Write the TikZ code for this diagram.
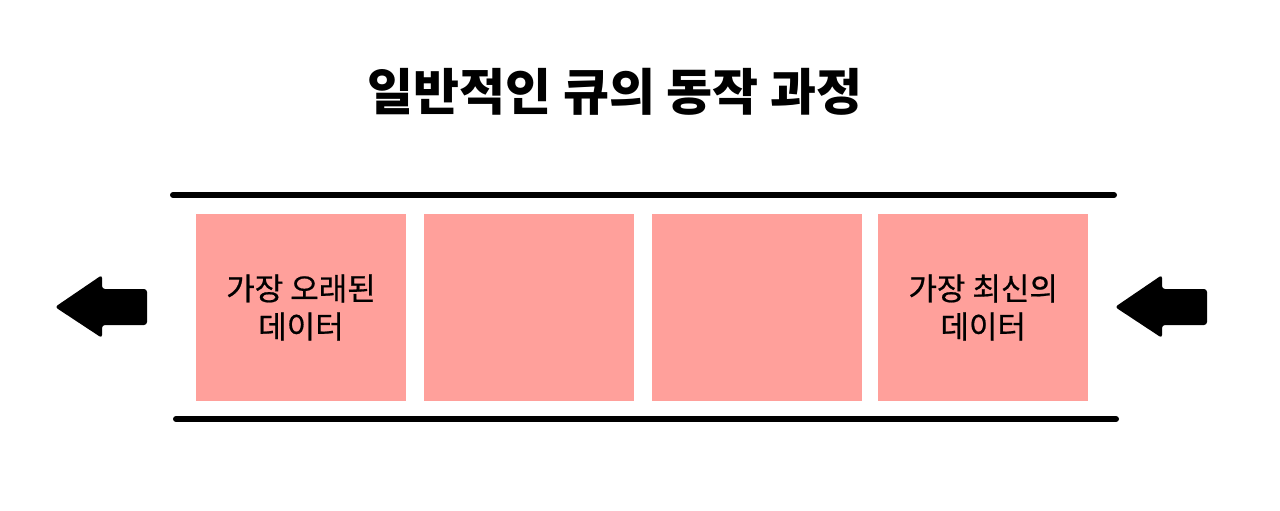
\documentclass[tikz,border=0pt]{standalone}
\usepackage{fontspec}
\setmainfont{Noto Sans CJK KR}
\newfontfamily\boxfont{Noto Sans CJK KR}[FakeBold=0.6]
\usepackage{xcolor}
\usepackage{tikz}
\usetikzlibrary{positioning}

\definecolor{queuepink}{RGB}{255,160,155}
\tikzset{
  databox/.style={fill=queuepink, minimum width=210pt, minimum height=187pt, inner sep=0pt,
    align=center, font=\boxfont\fontsize{31}{38}\selectfont},
  rail/.style={line width=6pt, line cap=round},
  bigarrow/.style={fill=black, rounded corners=3pt}
}

\begin{document}
\begin{tikzpicture}[x=1pt, y=-1pt]
\useasboundingbox (0, 0) rectangle (1280, 511);

\node[font=\fontsize{50}{55}\bfseries] (title) at (615, 92) {일반적인 큐의 동작 과정};

\draw[rail] (173, 195) -- (1114, 195);
\draw[rail] (176, 419) -- (1116, 419);

\node[databox] (oldest) at (301, 307.5) {가장 오래된\\데이터};
\node[databox, right=18pt of oldest] (second) {};
\node[databox, right=17pt of second] (third) {};
\node[databox, right=16pt of third] (newest) {가장 최신의\\데이터};

% arrows: out on the left, in on the right
\fill[bigarrow] (55, 307) -- (102, 275) -- (102, 289) -- (147, 289) -- (147, 325) -- (102, 325) -- (102, 338) -- cycle;
\fill[bigarrow] (1115, 307) -- (1162, 275) -- (1162, 289) -- (1207, 289) -- (1207, 325) -- (1162, 325) -- (1162, 338) -- cycle;
\end{tikzpicture}
\end{document}
